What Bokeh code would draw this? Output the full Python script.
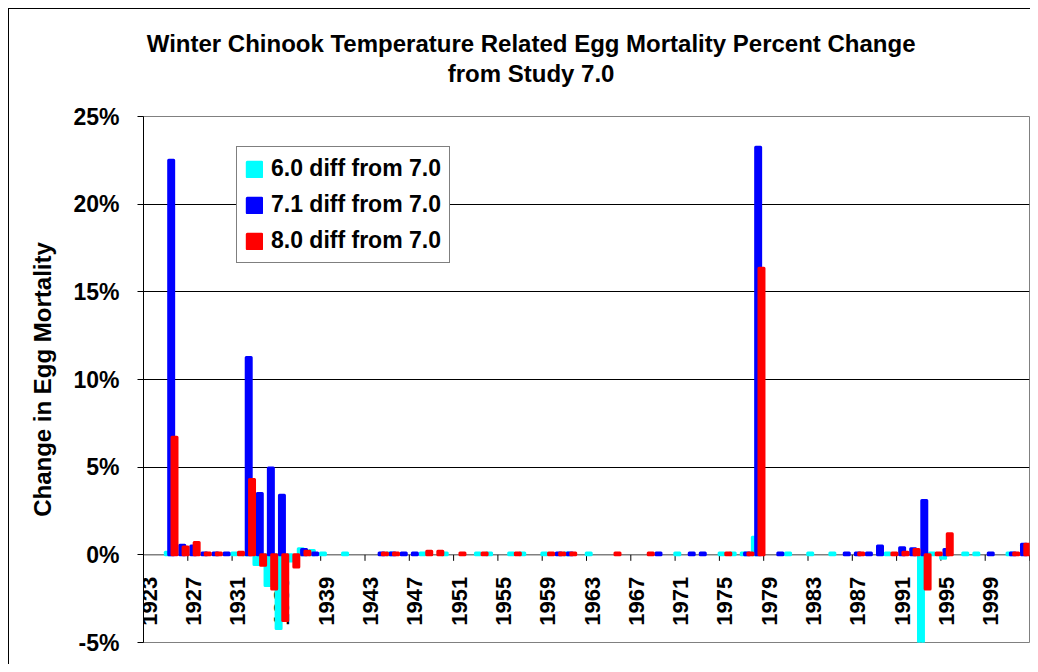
import math
import numpy as np
from bokeh.plotting import figure
from bokeh.models import (ColumnDataSource, Range1d, FixedTicker, PrintfTickFormatter,
                          Span, Legend, LegendItem, LinearAxis)
from bokeh.transform import dodge
from bokeh.core.properties import value
from bokeh.embed import file_html
from bokeh.resources import INLINE

# ---------------- data ----------------
years = list(range(1923, 2003))

# "6.0 diff from 7.0" (percent)
s60 = [
    None, None, 0.15, None, None, None, None, None, 0.1, 0.05,      # 1923-1932
    -0.55, -1.75, -4.2, -0.35, 0.35, 0.25, 0.1, None, 0.1, None,    # 1933-1942
    None, None, 0.1, None, None, 0.1, None, 0.1, None, None,        # 1943-1952
    0.1, 0.1, None, 0.1, 0.1, None, 0.1, None, 0.1, None,           # 1953-1962
    0.1, None, None, None, None, None, None, None, 0.1, None,       # 1963-1972
    None, None, 0.1, 0.1, 0.1, 1.0, None, None, 0.1, None,          # 1973-1982
    0.1, None, 0.1, None, None, None, None, 0.1, None, None,        # 1983-1992
    -5.2, 0.1, -0.2, None, 0.1, 0.1, None, None, 0.1, None,         # 1993-2002
]
# "7.1 diff from 7.0" (percent)
s71 = [
    None, None, 22.5, 0.55, 0.5, 0.1, 0.1, 0.1, None, 11.25,        # 1923-1932
    3.5, 4.95, 3.4, None, 0.3, 0.1, None, None, None, None,         # 1933-1942
    None, 0.1, 0.1, 0.1, 0.1, None, None, None, None, None,         # 1943-1952
    None, None, None, None, None, None, None, 0.1, 0.1, None,       # 1953-1962
    None, None, None, None, None, None, 0.1, None, None, 0.1,       # 1963-1972
    0.1, None, None, None, 0.1, 23.25, None, 0.1, None, None,       # 1973-1982
    None, None, None, 0.1, 0.1, 0.1, 0.5, None, 0.4, 0.35,          # 1983-1992
    3.1, None, 0.3, None, None, None, 0.1, None, 0.1, 0.6,          # 1993-2002
]
# "8.0 diff from 7.0" (percent)
s80 = [
    None, None, 6.7, 0.45, 0.7, 0.1, 0.1, None, 0.15, 4.3,          # 1923-1932
    -0.6, -1.95, -3.75, -0.7, 0.2, None, None, None, None, None,    # 1933-1942
    None, 0.1, 0.1, None, None, 0.2, 0.2, None, 0.1, None,          # 1943-1952
    0.1, None, None, 0.1, None, None, 0.1, 0.1, 0.1, None,          # 1953-1962
    None, None, 0.1, None, None, 0.1, None, None, None, None,       # 1963-1972
    None, None, 0.1, None, 0.1, 16.35, None, None, None, None,      # 1973-1982
    None, None, None, None, 0.1, None, None, 0.1, 0.15, 0.3,        # 1983-1992
    -1.95, 0.1, 1.2, None, None, None, None, None, 0.1, 0.6,        # 1993-2002
]

series_names = ["6.0 diff from 7.0", "7.1 diff from 7.0", "8.0 diff from 7.0"]
series_colors = ["#00FFFF", "#0000FF", "#FF0000"]

tick_labels = ["1923", "1927", "1931", "1935", "1939", "1943", "1947", "1951", "1955", "1959",
               "1963", "1967", "1971", "1975", "1979", "1983", "1987", "1991", "1995", "1999"]
y_ticks = [-5, 0, 5, 10, 15, 20, 25]

title_line1 = "Winter Chinook Temperature Related Egg Mortality Percent Change"
title_line2 = "from Study 7.0"
y_title = "Change in Egg Mortality"

FONT = "Liberation Sans"

def nanify(vals):
    return [np.nan if v is None else v for v in vals]

src = ColumnDataSource(dict(year=years, s60=nanify(s60), s71=nanify(s71), s80=nanify(s80)))

# ---------------- figure ----------------
p = figure(width=1030, height=664, output_backend="svg", toolbar_location=None,
           x_range=Range1d(years[0] - 0.5, years[-1] + 0.5),
           y_range=Range1d(min(y_ticks), max(y_ticks)),
           x_axis_location=None, title=None,
           frame_width=886, frame_height=526,
           min_border_left=143, min_border_top=116, min_border_right=1, min_border_bottom=22)
p.styles = {
    "background-color": "white",
    "background-image": "linear-gradient(#000,#000), linear-gradient(#000,#000)",
    "background-size": "1px 100%, 100% 1px",
    "background-position": "8px 8px, 8px 8px",
    "background-repeat": "no-repeat",
}
p.background_fill_color = "white"
p.border_fill_color = None
p.outline_line_color = "#808080"
p.outline_line_width = 1

# chart title: two centred lines, drawn as labels of two bare axes above the plot
# (the title block is centred on the chart, left of the plot-area centre)
title_center = (years[0] + years[-1]) / 2 - 5.0
for txt, standoff in [(title_line2, 30), (title_line1, 0)]:
    ax = LinearAxis(ticker=FixedTicker(ticks=[title_center]),
                    major_label_overrides={title_center: txt},
                    axis_line_color=None, major_tick_line_color=None, minor_tick_line_color=None,
                    major_tick_in=0, major_tick_out=0, major_label_standoff=standoff,
                    major_label_text_font=FONT, major_label_text_font_size="24px",
                    major_label_text_font_style="bold", major_label_text_color="black")
    p.add_layout(ax, "above")

# y axis
p.yaxis.ticker = FixedTicker(ticks=y_ticks)
p.yaxis.formatter = PrintfTickFormatter(format="%d%%")
p.yaxis.major_label_text_font = FONT
p.yaxis.major_label_text_font_size = "23px"
p.yaxis.major_label_text_font_style = "bold"
p.yaxis.major_label_text_color = "black"
p.yaxis.major_tick_in = 0
p.yaxis.major_tick_out = 6
p.yaxis.minor_tick_line_color = None
p.yaxis.major_label_standoff = 18
p.yaxis.axis_line_color = "black"
p.yaxis.major_tick_line_color = "black"
p.yaxis.axis_label = y_title
p.yaxis.axis_label_text_font = FONT
p.yaxis.axis_label_text_font_size = "24px"
p.yaxis.axis_label_text_font_style = "bold"
p.yaxis.axis_label_text_color = "black"
p.yaxis.axis_label_standoff = 14

p.xgrid.visible = False
p.ygrid.ticker = FixedTicker(ticks=[t for t in y_ticks if t > 0])
p.ygrid.grid_line_color = "black"
p.ygrid.grid_line_width = 1

# category axis at 0
zero = Span(location=0, dimension="width", line_color="#808080", line_width=1.5, level="underlay")
p.add_layout(zero)

# category tick marks (between categories, every 4 years) and labels
tick_pos = [int(t) - 0.5 for t in tick_labels] + [years[-1] + 0.5]
p.ray(x=tick_pos, y=[0] * len(tick_pos), length=6, length_units="screen",
      angle=-math.pi / 2, line_color="black", line_width=1)
p.text(x=[int(t) for t in tick_labels], y=[0] * len(tick_labels), text=tick_labels,
       angle=math.pi / 2, text_align="right", text_baseline="middle", y_offset=22,
       text_font=value(FONT), text_font_size="22px", text_font_style="bold", text_color="black")

# bars
offsets = [-0.3, 0.0, 0.3]
renderers = []
for col, off, color in zip(["s60", "s71", "s80"], offsets, series_colors):
    r = p.vbar(x=dodge("year", off, range=p.x_range), top=col, bottom=0, width=0.45,
               source=src, fill_color=color, line_color=color, line_width=3,
               line_join="round")
    renderers.append(r)

legend = Legend(items=[LegendItem(label=n, renderers=[r]) for n, r in zip(series_names, renderers)],
                location=(93, 379), orientation="vertical",
                label_text_font=FONT, label_text_font_size="23px", label_text_font_style="bold",
                label_text_color="black", glyph_width=18, glyph_height=18, label_standoff=8,
                spacing=9, padding=8, margin=0, border_line_color="black", border_line_width=1,
                background_fill_color="white", background_fill_alpha=1)
p.add_layout(legend)

open("out.html", "w").write(file_html(p, INLINE))
